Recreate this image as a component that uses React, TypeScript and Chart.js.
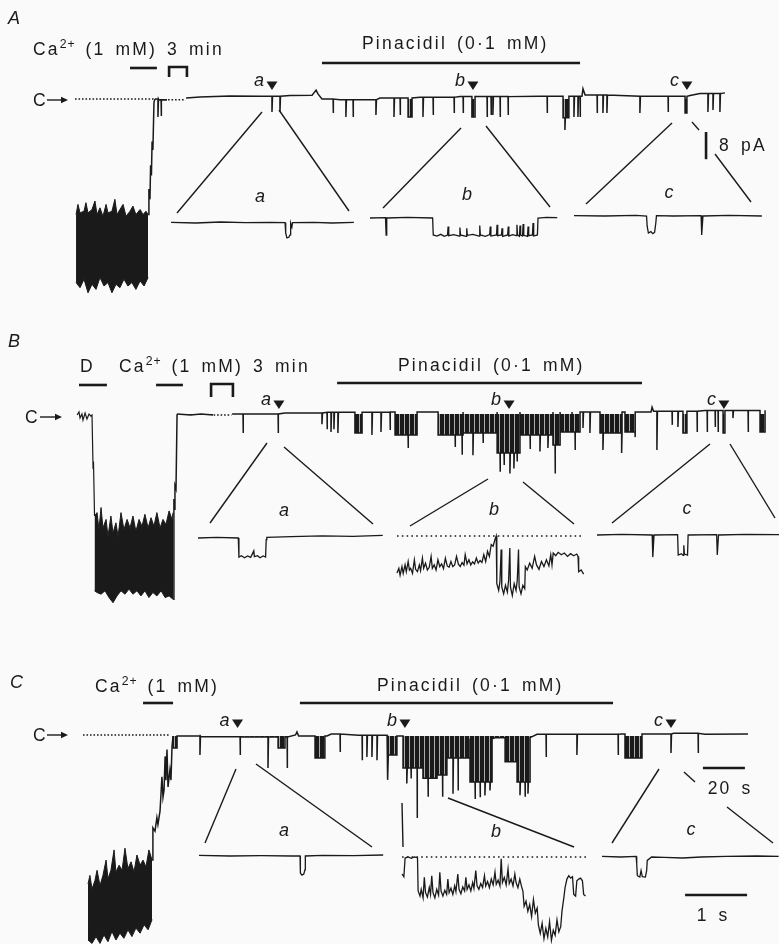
import React, { useEffect, useRef } from 'react';
import { Chart, registerables } from 'chart.js';

Chart.register(...registerables);

type P = [number, number];
type Burst = [number, number, number];
type Mark = [string, number];
type Part = { t: string; sup?: boolean };

const FONT = '"Liberation Sans", Arial, Helvetica, sans-serif';
const INK = '#1a1a1a';
const BG = '#fafafa';
const W = 779;
const PX_PER_S = 2.1; // main time base (20 s bar)
const PX_PER_S_INSET = 62; // inset time base (1 s bar)
const PX_PER_PA = 3.4; // current scale (8 pA bar)
const T0_PX = 75;
const TEXT_SIZE = 17.5;
const LETTER_SP = 2.2;
const WORD_SP = 3;

// ================= scale bars =================
const scalePA = 8;
const scaleS: P = [299, 319]; // 20 s
const scaleInsetS: P = [1.34, 2.34]; // 1 s

// ================= Panel A =================
const aCa: P = [26.2, 39.0];
const aGap: P = [44.8, 53.3];
const aPin: P = [117.6, 240.5];
const aMarks: Mark[] = [['a', 93.8], ['b', 189.5], ['c', 291.4]];
const aCDotted: P[] = [[0, 0], [37.5, 0]];
const aGapDotted: P[] = [[44.3, -0.2], [52, -0.2]];
const aNoiseTop: P[] = [[0.5, -34], [1.4, -31], [2.4, -33.5], [4.3, -33], [5.2, -30.5], [6.2, -33.5], [8.1, -32.5], [9.5, -30], [10.5, -34], [11.9, -32], [13.3, -34.5], [14.8, -31], [15.7, -33.5], [17.6, -33], [19, -29.5], [20, -34], [21.4, -32.5], [22.9, -31], [24.3, -34.5], [26.2, -33], [27.6, -31.5], [29, -34], [31, -32.5], [32.4, -34], [33.8, -33], [34.8, -34]];
const aNoiseBottom: P[] = [[0.5, -54], [2.4, -55.5], [4.3, -53], [6.2, -57], [8.1, -54.5], [10, -56], [11.9, -52.5], [13.8, -55], [15.7, -54], [17.6, -57], [19.5, -54.5], [21.4, -55.5], [23.3, -53], [25.2, -55], [27.1, -54], [29, -56], [31, -53.5], [32.9, -55], [34.8, -52.5]];
const aRise: P[] = [[34.8, -34], [35.2, -26.5], [35.7, -29.5], [36, -19.5], [36.4, -22.5], [36.7, -12.5], [37.1, -15], [37.6, -1], [38.1, 0]];
const aSeg1Levels: P[] = [[38.1, 0], [40, -0.3], [42, -0.2], [43.8, -0.3]];
const aSeg1Spikes: P[] = [[39.5, -5.3], [41, -5]];
const aLevels: P[] = [[52.9, 0.3], [59.5, 0.6], [73.8, 0.9], [88.1, 0.8], [102.4, 1.0], [112.9, 1.1], [114.8, 2.6], [115.7, 1.5], [117.6, 0], [126.2, -0.2], [145.2, 0.3], [164.3, 0.5], [183.3, 0.7], [221.4, 0.8], [241.4, 0.8], [241.9, 3.0], [242.9, 1.2], [269, 0.8], [292.9, 1.0], [297.6, 1.6], [309.5, 1.8]];
const aSpikes: P[] = [[93.8, -3.8], [97.6, -3.8], [122.9, -4.1], [129, -5.3], [132.4, -5.3], [143.3, -4.7], [151.9, -5.3], [154.8, -4.7], [165.7, -5.3], [170.5, -4.7], [180.5, -4.1], [184.8, -4.1], [196.2, -5.3], [198.1, -4.7], [199, -4.7], [202.4, -5.3], [206.2, -4.7], [224.8, -4.1], [233.3, -9.1], [237.6, -5.3], [239.5, -5.3], [240.5, -5.3], [248.6, -4.1], [251.4, -4.1], [253.3, -4.1], [269, -4.1], [282.4, -3.8], [301.4, -3.8], [303.8, -3.2], [307.1, -3.8]];
const aBursts: Burst[] = [[158.6, 160.5, -5.3], [189, 190.5, -5.3], [232.4, 235.2, -5.5], [290.5, 291.4, -4.1]];
const aInsetA: P[] = [[0, 0.2], [0.4, 0], [0.8, 0.3], [1.2, 0.1], [1.6, 0.2], [1.84, 0.1], [1.85, -3], [1.87, -4.4], [1.9, -4.2], [1.92, -3.5], [1.93, 0], [1.95, -1.2], [1.96, 0.1], [2.3, 0.2], [2.6, 0], [2.95, 0.2]];
const aInsetB: P[] = [[0, 0], [0.25, 0.1], [0.26, -5], [0.27, 0], [0.6, 0.2], [1.01, 0], [1.02, -5], [1.08, -5.3], [1.14, -4.8], [1.2, -5.4], [1.25, -5], [1.26, -2.5], [1.27, -5.2], [1.35, -4.9], [1.44, -5.3], [1.45, -2.8], [1.46, -5], [1.55, -5.4], [1.56, -3], [1.57, -5.1], [1.66, -4.8], [1.76, -5.3], [1.77, -2.2], [1.78, -5], [1.86, -5.4], [1.93, -4.9], [1.94, -2.5], [1.95, -5.3], [2.04, -5], [2.05, -2], [2.06, -5.2], [2.12, -5], [2.13, -3], [2.14, -5.4], [2.22, -5], [2.23, -2.5], [2.24, -5.3], [2.3, -4.9], [2.36, -5.2], [2.37, -2], [2.38, -5], [2.41, -5.4], [2.42, -2.2], [2.43, -5], [2.46, -5.3], [2.47, -1.8], [2.48, -5.1], [2.54, -5.4], [2.55, -2.5], [2.56, -5.2], [2.62, -5], [2.63, -1.5], [2.64, -5.3], [2.7, -5], [2.71, 0], [2.85, 0.2], [3.02, 0.1]];
const aInsetC: P[] = [[0, 0.1], [0.5, 0], [1.0, 0.2], [1.17, 0], [1.18, -3], [1.2, -5], [1.24, -4.6], [1.27, -5.2], [1.3, -4.8], [1.32, -2], [1.33, 0.1], [1.6, 0], [2.05, 0.1], [2.06, -5.6], [2.08, 0], [2.5, 0.2], [3.03, 0]];

// ================= Panel B =================
const bD: P = [1.9, 15.2];
const bCa: P = [38.6, 51.4];
const bGap: P = [64.8, 75.2];
const bPin: P = [124.8, 270];
const bMarks: Mark[] = [['a', 97.1], ['b', 206.7], ['c', 309]];
const bPre: P[] = [[1, -0.3], [1.9, 0.6], [2.4, -1.2], [3.3, 0], [3.8, -1.8], [4.8, 0.3], [5.7, -1.5], [6.7, 0], [7.6, -0.6], [8.1, -0.3], [8.6, -16], [8.8, -14], [9.3, -30]];
const bNoiseTop: P[] = [[9.3, -30], [10.5, -29], [11.4, -34], [12.4, -27.5], [13.3, -33.5], [14.8, -31], [15.7, -36], [17.1, -30], [18.1, -35], [19.5, -32], [20.5, -36], [21.9, -29], [23.3, -34], [24.8, -31], [26.2, -33.5], [27.6, -30], [29, -34.5], [30.5, -31], [31.9, -33], [33.3, -29.5], [34.8, -33.5], [36.2, -30.5], [37.6, -33], [39, -29], [40.5, -33.5], [41.9, -31], [43.3, -32.5], [44.8, -28.5], [46.2, -31], [46.7, -29]];
const bNoiseBottom: P[] = [[9.3, -52], [10.5, -52.5], [12.4, -53], [14.3, -52], [16.2, -54], [18.1, -55.5], [20, -53.5], [21.9, -52], [23.8, -53], [25.7, -51.5], [27.6, -53], [29.5, -52], [31.4, -53.5], [33.3, -52], [35.2, -54], [37.1, -52.5], [39, -53.5], [41, -52], [42.9, -54], [44.8, -53.5], [46.7, -54.5]];
const bRise: P[] = [[46.7, -54.5], [47.1, -25], [47.4, -28], [47.6, -21], [48.1, -22], [48.6, 0]];
const bSeg1Levels: P[] = [[48.6, 0], [55, -0.3], [60, 0], [65.7, -0.3]];
const bGapDotted: P[] = [[66, -0.3], [74.5, -0.3]];
const bLevels: P[] = [[74.8, 0], [100, 0.3], [120, 0.5], [150, 0.6], [250, 0.6], [274.3, 0.6], [274.8, 2], [275.5, 0.8], [300, 1], [328.6, 1.1]];
const bSpikes: P[] = [[80, -5.6], [96.7, -5.6], [117.6, -3], [120, -4.5], [121.9, -5.3], [123.3, -4.5], [125.2, -5.6], [141.4, -6.2], [145.7, -5.3], [150, -4.7], [158.6, -10], [181, -9.7], [184.3, -12], [189.5, -12.1], [194.3, -8.5], [202.4, -17], [204.3, -15], [207.1, -17.5], [209, -16], [210.5, -14], [216.7, -10.3], [221.4, -11], [225.2, -10], [228.6, -17.5], [238.1, -10.6], [241.9, -4.1], [245.2, -5.6], [251.4, -10.6], [260.3, -11.5], [266.7, -6.8], [277.1, -10.6], [284.3, -3.2], [287.1, -3.8], [296.2, -5.3], [301, -5.3], [304.8, -3.8], [306.2, -5.3], [313.3, -1.2], [320.5, -5.3]];
const bBursts: Burst[] = [[133.3, 136.7, -5.6], [152.4, 162.9, -6.2], [172.9, 184.8, -6.2], [184.8, 201, -5.6], [201, 211.9, -11.5], [211.9, 227.6, -6.2], [227.6, 231, -9.1], [231, 236.7, -5.3], [236.7, 240.5, -5.3], [250, 260.5, -5.6], [261.9, 266.7, -5.3], [289.5, 291.4, -5.6], [308.6, 309.5, -5.6], [326.2, 328.6, -5.3]];
const bInsetA: P[] = [[0, 0], [0.3, 0.2], [0.65, 0], [0.66, -5.6], [0.7, -5.2], [0.75, -5.8], [0.8, -5.3], [0.85, -5.7], [0.9, -3.8], [0.91, -5.5], [0.96, -5.2], [1.0, -5.8], [1.05, -5.3], [1.09, -5.6], [1.1, -0.5], [1.11, 0.2], [1.5, 0.4], [2.0, 0.6], [2.5, 0.5], [2.98, 0.8]];
const bInsetB: P[] = [[0, -10.9], [0.03, -9.5], [0.05, -11.5], [0.08, -9], [0.1, -11], [0.13, -8.5], [0.15, -10.5], [0.18, -7.5], [0.2, -10], [0.22, -9.5], [0.25, -11], [0.28, -7], [0.3, -9.8], [0.33, -10.5], [0.36, -8.5], [0.38, -10.2], [0.41, -6.5], [0.43, -9.5], [0.46, -8], [0.49, -10], [0.52, -9.2], [0.55, -6], [0.57, -9.5], [0.6, -8.5], [0.63, -10], [0.66, -7], [0.69, -9], [0.72, -8.2], [0.75, -9.6], [0.78, -6.5], [0.81, -8.8], [0.84, -9.2], [0.87, -7.5], [0.9, -9], [0.93, -8.5], [0.96, -6], [0.99, -8.3], [1.02, -9], [1.05, -7.8], [1.08, -8.6], [1.1, -5.5], [1.13, -8.2], [1.16, -7], [1.19, -8.5], [1.22, -7.6], [1.25, -8.2], [1.28, -6.5], [1.31, -8], [1.34, -7.2], [1.37, -7.8], [1.4, -5.5], [1.43, -7.5], [1.46, -4.5], [1.49, -6], [1.52, -2.5], [1.55, -3], [1.58, -1], [1.6, 0], [1.61, -14], [1.64, -16], [1.66, -13.5], [1.68, -4], [1.69, -15], [1.72, -17], [1.75, -14.5], [1.78, -16.5], [1.8, -13], [1.82, -3.5], [1.83, -15], [1.86, -17.5], [1.89, -14], [1.92, -16], [1.94, -13], [1.96, -4], [1.97, -15], [2.0, -17], [2.03, -14.5], [2.06, -15.5], [2.07, -9], [2.1, -10], [2.14, -8], [2.18, -9.5], [2.22, -6], [2.25, -8.5], [2.29, -9.8], [2.33, -7.5], [2.37, -9], [2.41, -7], [2.45, -8.8], [2.48, -5.5], [2.5, -8.5], [2.52, -5], [2.56, -5.8], [2.6, -4.8], [2.65, -5.5], [2.7, -5], [2.75, -6], [2.8, -5.2], [2.85, -5.8], [2.9, -5.3], [2.92, -6], [2.93, -10.5], [2.97, -10], [3.01, -11.2]];
const bInsetC: P[] = [[0, 0], [0.4, 0.2], [0.89, 0], [0.9, -6.5], [0.92, 0], [1.3, 0.1], [1.31, -5.9], [1.36, -5.5], [1.39, -6], [1.4, -3], [1.41, -5.6], [1.46, -5.9], [1.47, 0], [1.93, 0.1], [1.94, -5.9], [1.96, 0], [2.4, 0.2], [2.94, 0.1]];

// ================= Panel C =================
const cCa: P = [32.4, 46.7];
const cPin: P = [107.1, 256.2];
const cMarks: Mark[] = [['a', 77.4], ['b', 157.1], ['c', 283.8]];
const cCDotted: P[] = [[3.8, 0.3], [45.2, 0.3]];
const cNoiseTop: P[] = [[6.2, -43.5], [7.1, -41], [8.1, -45], [9.5, -42.5], [10.5, -39.5], [11.9, -44], [13.3, -41], [14.8, -36.5], [15.7, -42], [17.1, -39.5], [18.6, -33.5], [19.5, -40], [21, -38], [22.4, -39.5], [23.8, -33], [25.2, -39], [26.7, -37], [28.1, -40], [29.5, -35], [31, -38], [32.4, -36.5], [33.8, -38.5], [35.2, -33.5], [36.7, -36.5]];
const cNoiseBottom: P[] = [[6.2, -60], [8.1, -61], [10, -59], [11.9, -61], [13.8, -58.5], [15.7, -60.5], [17.6, -57.5], [19.5, -60], [21.4, -58], [23.3, -59.5], [25.2, -57], [27.1, -59], [29, -56.5], [31, -58], [32.9, -55.5], [34.8, -57], [36.7, -54]];
const cRise: P[] = [[36.7, -36.5], [37.1, -27], [38.1, -28], [39, -24], [39.5, -26], [40.5, -22], [41.4, -12], [41.9, -18], [42.4, -16], [42.9, -6], [43.3, -13], [43.8, -4], [44.3, -15], [45.2, -10], [45.7, -13], [46.2, -3], [46.7, 0]];
const cLevels: P[] = [[46.7, 0], [60, -0.2], [90, -0.3], [105, 0.3], [105.7, 1.2], [106.5, 0], [120, 0], [122, 0.6], [135, 0.2], [150, 0], [160, -0.8], [200, -0.5], [220, 0.5], [260, 0.6], [285, 0.8], [300, 0.5], [320.5, 0.6]];
const cSpikes: P[] = [[59.5, -5.6], [78.6, -5.6], [91.9, -9.4], [101, -9.4], [126.2, -4.7], [136.7, -7.1], [139, -6.2], [141.4, -6.2], [143.8, -7.1], [149, -12.9], [158, -14], [160, -12.5], [162.9, -24.1], [168.1, -17.9], [175, -17.9], [180, -17], [182.4, -16], [190.5, -18.5], [192.9, -18], [195.2, -17.5], [197.6, -16], [211.9, -17.4], [214.3, -17.9], [215.7, -17], [224.3, -6.2], [239, -5.6], [258.6, -5.6], [283.8, -5], [296.7, -5]];
const cBursts: Burst[] = [[46.7, 48.6, -3.5], [96.7, 100, -3.5], [114.3, 119, -6.5], [148.6, 153.3, -5.6], [156.2, 165.7, -9.4], [165.7, 172.4, -12.4], [172.4, 177.1, -11.5], [177.6, 188.1, -6.5], [188.1, 198.6, -13.5], [204.8, 210.5, -7.6], [210.5, 216.7, -13.5], [261.9, 270, -6.5]];
const cInsetA: P[] = [[0, 0.2], [0.5, 0], [1, 0.1], [1.5, 0], [1.63, 0], [1.635, -5], [1.66, -5.6], [1.69, -5.3], [1.71, -4], [1.715, 0], [2, 0.2], [2.5, 0.1], [2.97, 0.3]];
const cInsetB: P[] = [[0, -5], [0.03, -5.8], [0.05, -0.3], [0.1, 0], [0.15, -0.4], [0.2, 0], [0.25, -0.2], [0.26, -10], [0.29, -11.5], [0.31, -9.5], [0.34, -12], [0.36, -6], [0.38, -10.5], [0.41, -11.8], [0.44, -9], [0.46, -11], [0.48, -5.5], [0.5, -10.5], [0.53, -12], [0.56, -9.5], [0.59, -11.2], [0.61, -4.5], [0.63, -10], [0.66, -11.5], [0.69, -9.8], [0.72, -11], [0.74, -6.5], [0.76, -10.5], [0.79, -9.2], [0.82, -11], [0.85, -8.5], [0.87, -10.2], [0.9, -5], [0.92, -9.5], [0.95, -10.8], [0.98, -8.8], [1.01, -10], [1.03, -6], [1.05, -9.5], [1.08, -8.2], [1.11, -10], [1.14, -7.5], [1.16, -9.2], [1.19, -4], [1.21, -8.5], [1.24, -9.5], [1.27, -7.8], [1.3, -9], [1.33, -5.5], [1.35, -8.5], [1.38, -7.2], [1.41, -9], [1.44, -6.5], [1.47, -8.2], [1.5, -4.5], [1.52, -8], [1.55, -6.8], [1.58, -8.5], [1.6, -0.5], [1.62, -7.5], [1.65, -6], [1.68, -8.2], [1.71, -3.5], [1.73, -7.8], [1.76, -6.5], [1.79, -8.5], [1.82, -5], [1.84, -7.5], [1.87, -9], [1.9, -6.5], [1.93, -8.8], [1.95, -10], [1.97, -14.5], [2.0, -13], [2.03, -16], [2.06, -14], [2.09, -17.5], [2.12, -12.5], [2.15, -16.5], [2.18, -15], [2.2, -20], [2.23, -22.5], [2.26, -19.5], [2.29, -24], [2.32, -21], [2.35, -23.5], [2.38, -19], [2.41, -24.5], [2.44, -21.5], [2.47, -23], [2.5, -18.5], [2.53, -22], [2.56, -20.5], [2.58, -16], [2.61, -12], [2.63, -9], [2.66, -6.5], [2.69, -5.5], [2.72, -6.2], [2.75, -5.8], [2.77, -11], [2.8, -11.5], [2.82, -7], [2.85, -6.5], [2.88, -6.2], [2.91, -7], [2.93, -11], [2.96, -11.5]];
const cInsetC: P[] = [[0, 0.2], [0.3, 0], [0.55, 0.2], [0.56, -2], [0.57, -5.5], [0.61, -5.9], [0.63, -4], [0.65, -5.8], [0.7, -5.9], [0.72, -4], [0.73, -1], [0.8, 0], [1, -0.1], [1.3, -0.3], [1.6, 0], [2, 0.2], [2.5, 0.3], [2.85, 0.2]];
const insetClosedSpan: P[] = [[0, 0], [3.02, 0]];

// ================= trace builder =================
function buildTrace(levels: P[], spikes: P[], bursts: Burst[]): P[] {
  const baseAt = (t: number) => {
    let v = levels[0][1];
    for (const [lt, lv] of levels) {
      if (lt <= t) v = lv;
      else break;
    }
    return v;
  };
  const evs = bursts.map(([a, b, d]) => ({ t0: a, t1: b, d, inner: [] as P[] }));
  for (const [t, d] of spikes) {
    const host = evs.find((e) => e.t1 > e.t0 && t > e.t0 && t < e.t1);
    if (host) host.inner.push([t, d]);
    else evs.push({ t0: t, t1: t, d, inner: [] });
  }
  evs.sort((a, b) => a.t0 - b.t0);
  const out: P[] = [];
  let li = 0;
  for (const e of evs) {
    while (li < levels.length && levels[li][0] < e.t0) {
      out.push(levels[li]);
      li++;
    }
    const base = baseAt(e.t0);
    out.push([e.t0, base], [e.t0, e.d]);
    let end = e.t0 + 0.25;
    if (e.t1 > e.t0) {
      e.inner.sort((a, b) => a[0] - b[0]);
      for (const [t, d] of e.inner) out.push([t, e.d], [t, d], [t + 0.2, e.d]);
      out.push([e.t1, e.d], [e.t1, baseAt(e.t1)]);
      end = e.t1;
    } else {
      out.push([end, base]);
    }
    while (li < levels.length && levels[li][0] <= end) li++;
  }
  while (li < levels.length) {
    out.push(levels[li]);
    li++;
  }
  return out;
}

// ================= panel specs (layout) =================
const caParts = (withMin: boolean): Part[] => [
  { t: 'Ca' },
  { t: '2+', sup: true },
  { t: withMin ? ' (1 mM) 3 min' : ' (1 mM)' },
];
const pinParts: Part[] = [{ t: 'Pinacidil (0·1 mM)' }];

const PANELS: any[] = [
  {
    id: 'A', top: 0, H: 300, yC: 99,
    noise: [aNoiseTop, aNoiseBottom], pre: null, rise: aRise,
    dotted: [aCDotted, aGapDotted],
    segs: [buildTrace(aSeg1Levels, aSeg1Spikes, []), buildTrace(aLevels, aSpikes, aBursts)],
    insets: [
      { id: 'a', left: 171, y0: 223, data: aInsetA },
      { id: 'b', left: 370, y0: 218, data: aInsetB },
      { id: 'c', left: 574, y0: 216, data: aInsetC },
    ],
    letter: ['A', 8, 24],
    texts: [{ parts: caParts(true), x: 33, y: 55 }, { parts: pinParts, x: 362, y: 49 }],
    bars: [{ t: aCa, y: 68 }, { t: aPin, y: 63 }],
    brackets: [{ t: aGap, y: 67, h: 10 }],
    cArrow: { x: 33, ty: 106, ay: 100, x0: 47, x1: 68 },
    marks: aMarks, markTip: 90, markBase: 86,
    connectors: [[262, 112, 177, 213], [279, 110, 349, 211], [461, 128, 383, 208], [486, 126, 550, 207], [672, 123, 586, 204], [692, 122, 699, 130], [715, 154, 751, 202]],
    labels: [['a', 260, 197], ['b', 467, 195], ['c', 669, 193]],
    paBar: { t: 300.5, yTop: 132, label: '8 pA', lx: 719, ly: 151 },
  },
  {
    id: 'B', top: 300, H: 310, yC: 114,
    noise: [bNoiseTop, bNoiseBottom], pre: bPre, rise: bRise,
    dotted: [bGapDotted],
    segs: [buildTrace(bSeg1Levels, [], []), buildTrace(bLevels, bSpikes, bBursts)],
    insets: [
      { id: 'a', left: 198, y0: 538, data: bInsetA },
      { id: 'b', left: 397, y0: 536, data: bInsetB, closed: insetClosedSpan },
      { id: 'c', left: 597, y0: 535, data: bInsetC },
    ],
    letter: ['B', 8, 347],
    texts: [{ parts: [{ t: 'D' }], x: 80, y: 372 }, { parts: caParts(true), x: 119, y: 372 }, { parts: pinParts, x: 398, y: 371 }],
    bars: [{ t: bD, y: 385 }, { t: bCa, y: 385 }, { t: bPin, y: 383 }],
    brackets: [{ t: bGap, y: 384, h: 13 }],
    cArrow: { x: 25, ty: 423, ay: 417, x0: 40, x1: 62 },
    marks: bMarks, markTip: 409, markBase: 405,
    connectors: [[267, 443, 210, 523], [284, 447, 373, 524], [488, 479, 410, 526], [523, 482, 574, 524], [710, 444, 612, 523], [730, 444, 775, 518]],
    labels: [['a', 284, 511], ['b', 494, 510], ['c', 687, 509]],
  },
  {
    id: 'C', top: 610, H: 334, yC: 126,
    noise: [cNoiseTop, cNoiseBottom], pre: null, rise: cRise,
    dotted: [cCDotted],
    segs: [buildTrace(cLevels, cSpikes, cBursts)],
    insets: [
      { id: 'a', left: 199, y0: 856, data: cInsetA },
      { id: 'b', left: 402, y0: 857, data: cInsetB, closed: insetClosedSpan },
      { id: 'c', left: 602, y0: 857, data: cInsetC },
    ],
    letter: ['C', 10, 688],
    texts: [{ parts: caParts(false), x: 95, y: 692 }, { parts: pinParts, x: 377, y: 691 }],
    bars: [{ t: cCa, y: 703 }, { t: cPin, y: 703 }],
    brackets: [],
    cArrow: { x: 33, ty: 741, ay: 735, x0: 47, x1: 68 },
    marks: cMarks, markTip: 728, markBase: 726,
    connectors: [[236, 769, 205, 843], [256, 764, 372, 847], [402, 803, 403, 847], [448, 798, 574, 847], [659, 769, 612, 843], [684, 772, 695, 782], [727, 807, 773, 843]],
    labels: [['a', 284, 831], ['b', 496, 832], ['c', 691, 830]],
    sBar: { t: scaleS, y: 768, label: '20 s', lx: 729, ly: 794 },
    insetSBar: { id: 'c', t: scaleInsetS, y: 895, label: '1 s', lx: 712, ly: 921 },
  },
];

// ================= drawing helpers =================
function drawParts(ctx: CanvasRenderingContext2D, parts: Part[], x: number, y: number, size: number) {
  let cx = x;
  ctx.textAlign = 'left';
  ctx.textBaseline = 'alphabetic';
  for (const p of parts) {
    const fs = p.sup ? size * 0.7 : size;
    ctx.font = `${fs}px ${FONT}`;
    const sp = p.sup ? 0.8 : LETTER_SP;
    for (const ch of p.t) {
      ctx.fillText(ch, cx, p.sup ? y - size * 0.4 : y);
      cx += ctx.measureText(ch).width + sp + (ch === ' ' ? WORD_SP : 0);
    }
  }
}

function drawCentered(ctx: CanvasRenderingContext2D, text: string, cx: number, y: number) {
  ctx.font = `${TEXT_SIZE}px ${FONT}`;
  let w = 0;
  for (const ch of text) w += ctx.measureText(ch).width + LETTER_SP + (ch === ' ' ? WORD_SP : 0);
  w -= LETTER_SP;
  drawParts(ctx, [{ t: text }], cx - w / 2, y, TEXT_SIZE);
}

function seg(ctx: CanvasRenderingContext2D, x1: number, y1: number, x2: number, y2: number) {
  ctx.beginPath();
  ctx.moveTo(x1, y1);
  ctx.lineTo(x2, y2);
  ctx.stroke();
}

// dense flicker texture for compressed bursts of openings
function flickerPattern(): any {
  const c = document.createElement('canvas');
  c.width = 5;
  c.height = 1;
  const g = c.getContext('2d') as CanvasRenderingContext2D;
  g.fillStyle = INK;
  g.fillRect(0, 0, 4, 1);
  g.fillStyle = 'rgba(26,26,26,0.35)';
  g.fillRect(4, 0, 1, 1);
  const ctx = document.createElement('canvas').getContext('2d') as CanvasRenderingContext2D;
  return ctx.createPattern(c, 'repeat') || INK;
}

function annotPlugin(s: any) {
  return {
    id: 'annot' + s.id,
    afterDatasetsDraw(chart: any) {
      const ctx: CanvasRenderingContext2D = chart.ctx;
      const X = chart.scales.x;
      const Y = chart.scales.y;
      const gy = (y: number) => y - s.top;
      ctx.save();
      ctx.fillStyle = INK;
      ctx.strokeStyle = INK;
      ctx.lineCap = 'butt';

      ctx.font = `italic 18px ${FONT}`;
      ctx.textAlign = 'left';
      ctx.textBaseline = 'alphabetic';
      ctx.fillText(s.letter[0], s.letter[1], gy(s.letter[2]));

      for (const t of s.texts) drawParts(ctx, t.parts, t.x, gy(t.y), TEXT_SIZE);

      ctx.lineWidth = 2.6;
      for (const b of s.bars) seg(ctx, X.getPixelForValue(b.t[0]), gy(b.y), X.getPixelForValue(b.t[1]), gy(b.y));
      for (const b of s.brackets) {
        const x0 = X.getPixelForValue(b.t[0]);
        const x1 = X.getPixelForValue(b.t[1]);
        ctx.beginPath();
        ctx.moveTo(x0, gy(b.y + b.h));
        ctx.lineTo(x0, gy(b.y));
        ctx.lineTo(x1, gy(b.y));
        ctx.lineTo(x1, gy(b.y + b.h));
        ctx.stroke();
      }

      const a = s.cArrow;
      drawParts(ctx, [{ t: 'C' }], a.x, gy(a.ty), TEXT_SIZE);
      ctx.lineWidth = 1.4;
      seg(ctx, a.x0, gy(a.ay), a.x1 - 4, gy(a.ay));
      ctx.beginPath();
      ctx.moveTo(a.x1, gy(a.ay));
      ctx.lineTo(a.x1 - 7, gy(a.ay) - 3.2);
      ctx.lineTo(a.x1 - 7, gy(a.ay) + 3.2);
      ctx.closePath();
      ctx.fill();

      for (const [lab, t] of s.marks) {
        const x = X.getPixelForValue(t);
        ctx.beginPath();
        ctx.moveTo(x - 5.5, gy(s.markTip) - 8.5);
        ctx.lineTo(x + 5.5, gy(s.markTip) - 8.5);
        ctx.lineTo(x, gy(s.markTip));
        ctx.closePath();
        ctx.fill();
        ctx.font = `italic 18px ${FONT}`;
        ctx.textAlign = 'right';
        ctx.textBaseline = 'alphabetic';
        ctx.fillText(lab, x - 8, gy(s.markBase));
      }

      ctx.lineWidth = 1.4;
      for (const c of s.connectors) seg(ctx, c[0], gy(c[1]), c[2], gy(c[3]));

      ctx.font = `italic 18px ${FONT}`;
      ctx.textAlign = 'center';
      ctx.textBaseline = 'middle';
      for (const [lab, x, y] of s.labels) ctx.fillText(lab, x, gy(y));

      if (s.paBar) {
        const x = X.getPixelForValue(s.paBar.t);
        const v = Y.getValueForPixel(gy(s.paBar.yTop));
        ctx.lineWidth = 2.6;
        seg(ctx, x, Y.getPixelForValue(v), x, Y.getPixelForValue(v - scalePA));
        drawParts(ctx, [{ t: s.paBar.label }], s.paBar.lx, gy(s.paBar.ly), TEXT_SIZE);
      }
      if (s.sBar) {
        ctx.lineWidth = 2.6;
        seg(ctx, X.getPixelForValue(s.sBar.t[0]), gy(s.sBar.y), X.getPixelForValue(s.sBar.t[1]), gy(s.sBar.y));
        drawCentered(ctx, s.sBar.label, s.sBar.lx, gy(s.sBar.ly));
      }
      if (s.insetSBar) {
        const XI = chart.scales['x' + s.insetSBar.id];
        ctx.lineWidth = 2.6;
        seg(ctx, XI.getPixelForValue(s.insetSBar.t[0]), gy(s.insetSBar.y), XI.getPixelForValue(s.insetSBar.t[1]), gy(s.insetSBar.y));
        drawCentered(ctx, s.insetSBar.label, s.insetSBar.lx, gy(s.insetSBar.ly));
      }
      ctx.restore();
    },
  };
}

// ================= chart config =================
function lin(axis: string, min: number, max: number) {
  return { type: 'linear', axis, min, max, display: false, bounds: 'data', grid: { display: false }, ticks: { display: false } };
}

function lineDs(data: P[], xAxisID: string, yAxisID: string, extra: any = {}) {
  return {
    type: 'line',
    data: data.map(([x, y]) => ({ x, y })),
    xAxisID,
    yAxisID,
    borderColor: INK,
    backgroundColor: INK,
    borderWidth: 1.3,
    pointRadius: 0,
    pointHoverRadius: 0,
    tension: 0,
    fill: false,
    ...extra,
  };
}

function buildConfig(s: any) {
  const scales: any = {
    x: lin('x', -T0_PX / PX_PER_S, (W - T0_PX) / PX_PER_S),
    y: lin('y', -(s.H - s.yC) / PX_PER_PA, s.yC / PX_PER_PA),
  };
  const flicker = flickerPattern();
  const datasets: any[] = [];
  datasets.push(lineDs(s.noise[0], 'x', 'y', { fill: '+1', borderWidth: 1 }));
  datasets.push(lineDs(s.noise[1], 'x', 'y', { borderWidth: 1 }));
  if (s.pre) datasets.push(lineDs(s.pre, 'x', 'y', { borderWidth: 1.2 }));
  datasets.push(lineDs(s.rise, 'x', 'y', { borderWidth: 1.5 }));
  for (const d of s.dotted) datasets.push(lineDs(d, 'x', 'y', { borderWidth: 1.6, borderDash: [1.6, 1.9] }));
  for (const tr of s.segs) {
    datasets.push(lineDs(tr, 'x', 'y', { borderWidth: 1.5, fill: { target: 'origin', above: 'rgba(0,0,0,0)', below: flicker } }));
  }
  for (const ins of s.insets) {
    const y0 = ins.y0 - s.top;
    scales['x' + ins.id] = lin('x', -ins.left / PX_PER_S_INSET, (W - ins.left) / PX_PER_S_INSET);
    scales['y' + ins.id] = lin('y', -(s.H - y0) / PX_PER_PA, y0 / PX_PER_PA);
    if (ins.closed) datasets.push(lineDs(ins.closed, 'x' + ins.id, 'y' + ins.id, { borderWidth: 1.5, borderDash: [1.6, 3.2] }));
    datasets.push(lineDs(ins.data, 'x' + ins.id, 'y' + ins.id, { borderWidth: 1.3 }));
  }
  return {
    type: 'line',
    data: { datasets },
    options: {
      animation: false,
      responsive: false,
      maintainAspectRatio: false,
      devicePixelRatio: 1,
      events: [],
      layout: { padding: 0 },
      plugins: { legend: { display: false }, tooltip: { enabled: false }, title: { display: false } },
      scales,
    },
    plugins: [annotPlugin(s)],
  };
}

function PanelChart({ spec }: { spec: any }) {
  const ref = useRef<HTMLCanvasElement>(null);
  useEffect(() => {
    const chart = new Chart(ref.current as HTMLCanvasElement, buildConfig(spec) as any);
    return () => chart.destroy();
  }, [spec]);
  return (
    <canvas
      ref={ref}
      width={W}
      height={spec.H}
      style={{ position: 'absolute', left: 0, top: spec.top, width: W, height: spec.H, display: 'block' }}
    />
  );
}

export default function App() {
  useEffect(() => {
    document.body.style.margin = '0';
    document.body.style.background = BG;
  }, []);
  return (
    <div style={{ position: 'absolute', left: 0, top: 0, width: W, height: 944, background: BG, overflow: 'hidden' }}>
      {PANELS.map((p) => (
        <PanelChart key={p.id} spec={p} />
      ))}
    </div>
  );
}
